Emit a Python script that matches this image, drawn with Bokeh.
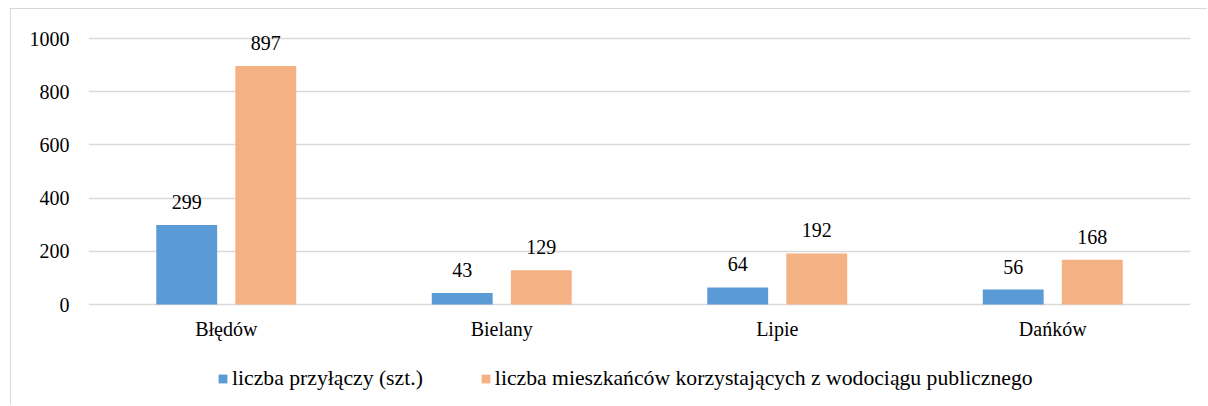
from bokeh.plotting import figure
from bokeh.models import ColumnDataSource, FactorRange, Range1d, FixedTicker, Legend, LegendItem
from bokeh.transform import dodge
from bokeh.core.properties import value
from bokeh.embed import file_html
from bokeh.resources import INLINE

categories = ["Błędów", "Bielany", "Lipie", "Dańków"]
przylacza = [299, 43, 64, 56]
mieszkancy = [897, 129, 192, 168]
series_names = ["liczba przyłączy (szt.)", "liczba mieszkańców korzystających z wodociągu publicznego"]
y_ticks = [0, 200, 400, 600, 800, 1000]

FONT = "'Liberation Serif', serif"
FS = "20px"
BLUE = "#5B9BD5"
ORANGE = "#F4B183"

src = ColumnDataSource(dict(
    cat=categories,
    a=przylacza,
    b=mieszkancy,
    a_s=[str(v) for v in przylacza],
    b_s=[str(v) for v in mieszkancy],
))

# frame extends below zero (category labels, legend) and above 1000 (value labels)
p = figure(
    x_range=FactorRange(factors=categories),
    y_range=Range1d(-368.4, 1067.7),
    width=1197, height=397,
    output_backend="svg", toolbar_location=None,
    min_border_left=77, min_border_right=18, min_border_top=11, min_border_bottom=4,
)
p.styles = {"margin-left": "10px", "margin-top": "8px",
            "border-top": "1px solid #d9d9d9", "border-left": "1px solid #d9d9d9"}
p.outline_line_color = None
p.background_fill_color = "white"
p.border_fill_color = "white"

bw = 0.221
off = 0.1435
r1 = p.vbar(x=dodge("cat", -off, range=p.x_range), top="a", width=bw, source=src,
            fill_color=BLUE, line_color=None)
r2 = p.vbar(x=dodge("cat", off, range=p.x_range), top="b", width=bw, source=src,
            fill_color=ORANGE, line_color=None)

for col, o in (("a_s", -off), ("b_s", off)):
    ycol = col[0]
    p.text(x=dodge("cat", o, range=p.x_range), y=ycol, text=col, source=src,
           text_font=value(FONT), text_font_size=FS, text_color="#000000",
           text_align="center", text_baseline="alphabetic", y_offset=-23)

p.xgrid.grid_line_color = None
p.ygrid.grid_line_color = "#d9d9d9"
p.ygrid.grid_line_width = 1.3
p.yaxis.ticker = FixedTicker(ticks=y_ticks)
p.xaxis.fixed_location = 0

for ax in (p.xaxis[0], p.yaxis[0]):
    ax.axis_line_color = None
    ax.major_tick_line_color = None
    ax.minor_tick_line_color = None
    ax.major_tick_out = 0
    ax.major_tick_in = 0
    ax.major_label_text_font = FONT
    ax.major_label_text_font_size = FS
    ax.major_label_text_color = "#000000"
p.xaxis.major_label_standoff = 13
p.yaxis.major_label_standoff = 19

legend = Legend(
    items=[LegendItem(label=series_names[0], renderers=[r1]),
           LegendItem(label=series_names[1], renderers=[r2])],
    orientation="horizontal",
    location=(129, 11),
    glyph_width=11, glyph_height=11,
    label_standoff=4, spacing=57, padding=0, margin=0,
    border_line_color=None, background_fill_alpha=0,
    label_text_font=FONT, label_text_font_size="21.7px", label_text_color="#000000",
)
p.add_layout(legend, "center")

open("out.html", "w").write(file_html(p, INLINE))
